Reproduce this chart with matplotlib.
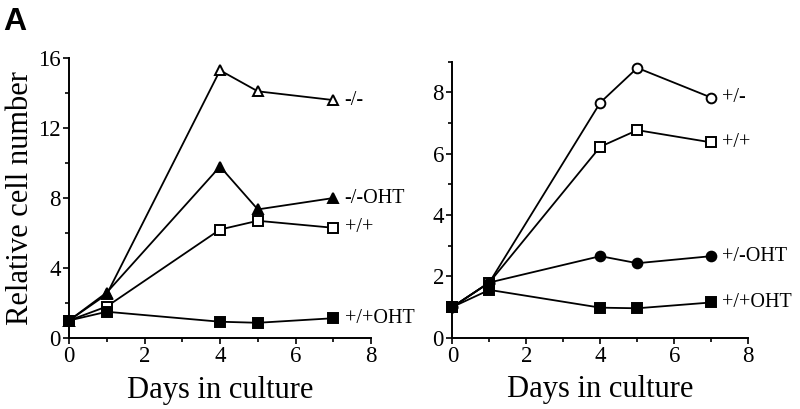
import matplotlib
matplotlib.use("Agg")
import matplotlib.pyplot as plt
from matplotlib.ticker import MultipleLocator

plt.rcParams['font.family'] = ['Liberation Serif', 'DejaVu Serif']

days = [0, 1, 4, 5, 7]

# left panel
ko = [1.0, 2.5, 15.3, 14.1, 13.6]          # -/-
ko_oht = [1.0, 2.6, 9.8, 7.35, 8.0]        # -/-OHT
wt_left = [1.0, 1.8, 6.2, 6.7, 6.3]        # +/+
wt_oht_left = [1.0, 1.5, 0.93, 0.87, 1.13] # +/+OHT

# right panel
het = [1.0, 1.8, 7.67, 8.8, 7.83]          # +/-
wt_right = [1.0, 1.8, 6.23, 6.77, 6.37]    # +/+
het_oht = [1.0, 1.8, 2.66, 2.43, 2.66]     # +/-OHT
wt_oht_right = [1.0, 1.56, 0.98, 0.96, 1.15]  # +/+OHT

left_series = [
    (ko, '^', 'white', '-/-'),
    (ko_oht, '^', 'black', '-/-OHT'),
    (wt_left, 's', 'white', '+/+'),
    (wt_oht_left, 's', 'black', '+/+OHT'),
]
right_series = [
    (het, 'o', 'white', '+/-'),
    (wt_right, 's', 'white', '+/+'),
    (het_oht, 'o', 'black', '+/-OHT'),
    (wt_oht_right, 's', 'black', '+/+OHT'),
]

fig = plt.figure(figsize=(8, 4.09), dpi=100)
ax1 = fig.add_axes([0.0863, 0.1736, 0.3775, 0.6844])
ax2 = fig.add_axes([0.5654, 0.1743, 0.370, 0.6747])


def draw(ax, series, ymax, ymajor, yminor):
    for vals, mk, fc, name in series:
        ax.plot(days, vals, color='black', lw=1.3, marker=mk, ms=7,
                mfc=fc, mec='black', mew=1.4, clip_on=False, zorder=3)
        ax.text(days[-1] + 0.3, vals[-1], name, fontsize=14.5,
                va='center', ha='left')
    ax.set_xlim(0, 8)
    ax.set_ylim(0, ymax)
    ax.xaxis.set_major_locator(MultipleLocator(2))
    ax.xaxis.set_minor_locator(MultipleLocator(1))
    ax.yaxis.set_major_locator(MultipleLocator(ymajor))
    ax.yaxis.set_minor_locator(MultipleLocator(yminor))
    for s in ['top', 'right']:
        ax.spines[s].set_visible(False)
    for s in ['left', 'bottom']:
        ax.spines[s].set_linewidth(1.4)
    ax.tick_params(which='both', direction='out', width=1.2, labelsize=16.5)
    ax.tick_params(which='major', length=4, pad=2)
    ax.tick_params(which='minor', length=3)
    ax.set_xlabel('Days in culture', fontsize=22, labelpad=6)


draw(ax1, left_series, 16, 4, 2)
draw(ax2, right_series, 9, 2, 1)
ax1.set_ylabel('Relative cell number', fontsize=22, labelpad=2)

fig.text(0.004, 0.982, 'A', fontsize=23, fontweight='bold',
         family='Liberation Sans', va='top', ha='left')

fig.savefig('out.png', dpi=100)
